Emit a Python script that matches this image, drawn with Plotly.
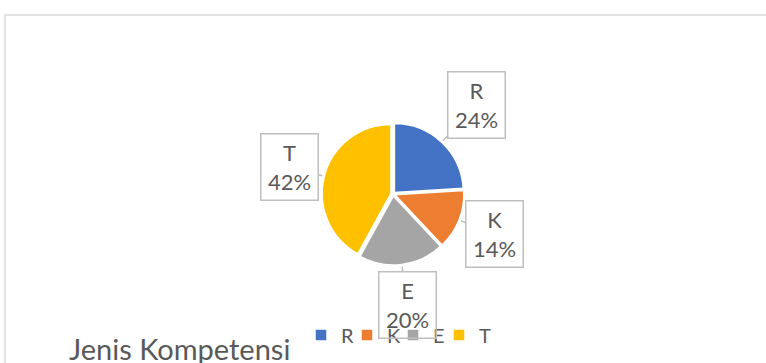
import math
import plotly.graph_objects as go

# Competency type shares
categories = ["R", "K", "E", "T"]
shares = [24, 14, 20, 42]
slice_colors = ["#4472C4", "#ED7D31", "#A5A5A5", "#FFC000"]
chart_title = "Jenis Kompetensi"

W, H = 766, 363
TEXT = "#595959"
FONT = "Lato"

# pie geometry in pixels
cx, cy, rad = 393, 194, 71
label_dist = [122, 109, 112, 107]   # distance of each callout box from the centre

fig = go.Figure(
    go.Pie(
        labels=categories,
        values=shares,
        sort=False,
        direction="clockwise",
        rotation=0,
        marker=dict(colors=slice_colors, line=dict(color="white", width=1.5)),
        pull=0.03,
        textinfo="none",
        hoverinfo="label+percent",
        domain=dict(
            x=[(cx - rad) / W, (cx + rad) / W],
            y=[(H - cy - rad) / H, (H - cy + rad) / H],
        ),
    )
)

# callout labels placed along each slice's mid angle
total = sum(shares)
cum = 0
annotations = []
for cat, val, d in zip(categories, shares, label_dist):
    mid = (cum + val / 2) / total * 2 * math.pi
    cum += val
    px = cx + (rad + 2) * math.sin(mid)
    py = cy - (rad + 2) * math.cos(mid)
    bx = cx + d * math.sin(mid)
    by = cy - d * math.cos(mid)
    annotations.append(
        dict(
            x=px / W, y=1 - py / H, xref="paper", yref="paper",
            ax=bx - px, ay=by - py, axref="pixel", ayref="pixel",
            text=f"{cat}<br>{round(val / total * 100)}%",
            showarrow=True, arrowhead=0, arrowwidth=1.5, arrowcolor="#BFBFBF",
            font=dict(family=FONT, size=22, color=TEXT),
            width=54, height=63, borderpad=1, borderwidth=1.5,
            bordercolor="#BFBFBF", bgcolor="rgba(0,0,0,0)",
            align="center", valign="middle",
        )
    )

fig.update_layout(
    width=W, height=H,
    margin=dict(l=0, r=0, t=0, b=0),
    paper_bgcolor="white",
    plot_bgcolor="white",
    font=dict(family=FONT, color=TEXT),
    title=dict(
        text=chart_title,
        x=69 / W, xanchor="left", xref="container",
        y=1 - 350 / H, yanchor="middle", yref="container",
        font=dict(family=FONT, size=29, color=TEXT),
    ),
    showlegend=True,
    legend=dict(
        orientation="h",
        x=313 / W, xanchor="left",
        y=1 - 335 / H, yanchor="middle",
        font=dict(family=FONT, size=20, color=TEXT),
        entrywidth=13, entrywidthmode="pixels",
        itemwidth=30,
        indentation=-12,
        bgcolor="rgba(0,0,0,0)",
        traceorder="normal",
    ),
    annotations=annotations,
    shapes=[
        dict(
            type="rect", xref="paper", yref="paper",
            x0=5 / W, x1=1.02, y0=-0.05, y1=1 - 15 / H,
            line=dict(color="#D9D9D9", width=1.5),
            fillcolor="rgba(0,0,0,0)", layer="below",
        )
    ],
)

fig.write_html("out.html")
